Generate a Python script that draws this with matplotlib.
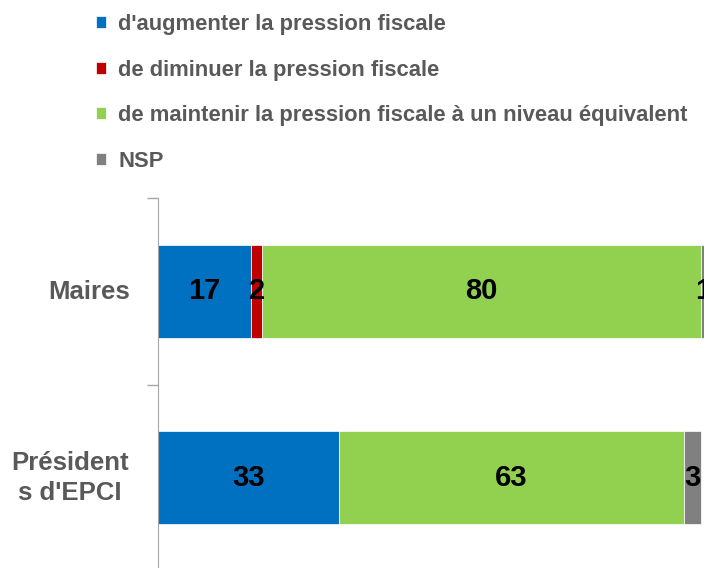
import numpy as np
import matplotlib.pyplot as plt

plt.rcParams['font.family'] = ['Liberation Sans', 'DejaVu Sans']

categories = ["Maires", "Président\ns d'EPCI"]
series = ["d'augmenter la pression fiscale",
          "de diminuer la pression fiscale",
          "de maintenir la pression fiscale à un niveau équivalent",
          "NSP"]
values = {
    series[0]: [17, 33],
    series[1]: [2, 0],
    series[2]: [80, 63],
    series[3]: [1, 3],
}
colors = ["#0070C0", "#C00000", "#92D050", "#808080"]

fig = plt.figure(figsize=(7.04, 5.68), dpi=100)
ax = fig.add_axes([158 / 704, -3 / 568, 1 - 158 / 704, 373 / 568])

y = np.arange(len(categories))
left = np.zeros(len(categories))
for name, col in zip(series, colors):
    vals = np.array(values[name], dtype=float)
    ax.barh(y, vals, left=left, height=0.5, color=col, label=name,
            edgecolor="white", linewidth=0.5)
    for yi, v, l in zip(y, vals, left):
        if v > 0:
            ax.text(l + v / 2, yi, f"{v:g}", ha="center", va="center",
                    fontsize=21, fontweight="bold", color="black")
    left += vals

ax.set_xlim(0, 99.6)
ax.set_ylim(1.5, -0.5)
ax.set_xticks([])
ax.set_yticks([])
ax.set_yticks([-0.5, 0.5, 1.5], minor=True)
ax.tick_params(axis="y", which="minor", length=8, color="#a6a6a6", width=1)
for s in ["top", "right", "bottom"]:
    ax.spines[s].set_visible(False)
ax.spines["left"].set_color("#a6a6a6")

fig.text(130 / 704, 1 - 292 / 568, categories[0], ha="right", va="center",
         fontsize=18.5, fontweight="bold", color="#595959")
fig.text(70 / 704, 1 - 478 / 568, categories[1], ha="center", va="center",
         fontsize=18.5, fontweight="bold", color="#595959", linespacing=1.3)

fig.legend(loc="upper left", bbox_to_anchor=(96 / 704, 1 - 14 / 568),
           frameon=False, handlelength=0.46, handleheight=0.46,
           handletextpad=0.55, labelspacing=1.12, borderpad=0, borderaxespad=0,
           prop={"size": 15.8, "weight": "bold"}, labelcolor="#595959")

fig.savefig("out.png", dpi=100)
